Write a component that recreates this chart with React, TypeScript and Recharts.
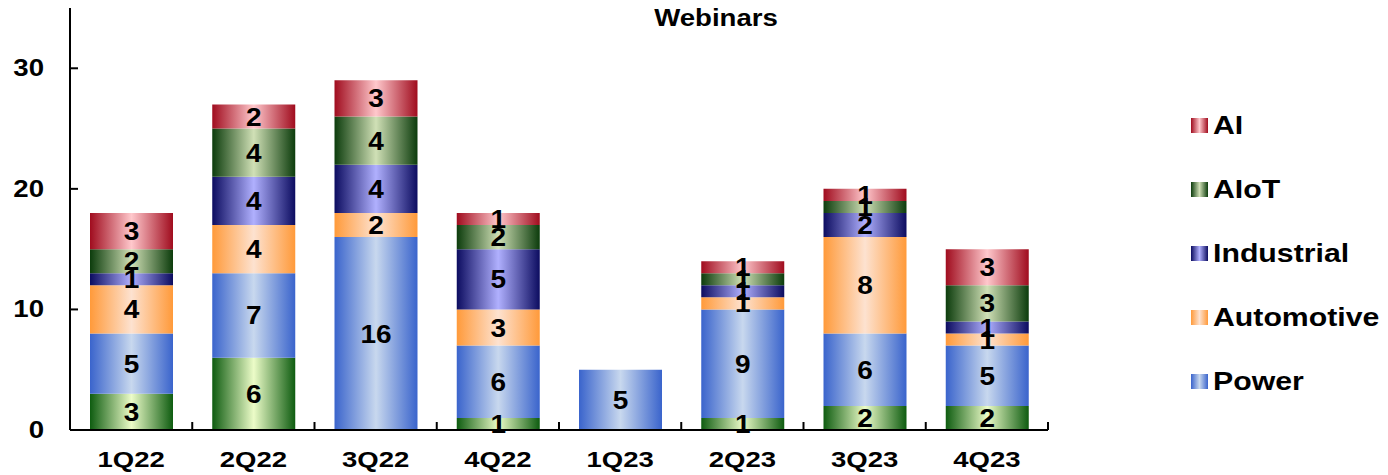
import React from 'react';
import { BarChart, Bar, XAxis, YAxis, LabelList, Legend } from 'recharts';

// Quarterly webinar counts by topic
const quarters = ['1Q22', '2Q22', '3Q22', '4Q22', '1Q23', '2Q23', '3Q23', '4Q23'];
const other = [3, 6, 0, 1, 0, 1, 2, 2];
const power = [5, 7, 16, 6, 5, 9, 6, 5];
const automotive = [4, 4, 2, 3, 0, 1, 8, 1];
const industrial = [1, 4, 4, 5, 0, 1, 2, 1];
const aiot = [2, 4, 4, 2, 0, 1, 1, 3];
const ai = [3, 2, 3, 1, 0, 1, 1, 3];
const yTicks = [0, 10, 20, 30];

const FONT = '"Liberation Sans", Arial, Helvetica, sans-serif';

type Series = { key: string; name: string; values: number[]; edge: string; mid: string; legend: boolean };

// stacked bottom to top
const series: Series[] = [
  { key: 'other', name: 'Other', values: other, edge: '#0e5c10', mid: '#ecfcc8', legend: false },
  { key: 'power', name: 'Power', values: power, edge: '#3a64cc', mid: '#c8d8ee', legend: true },
  { key: 'automotive', name: 'Automotive', values: automotive, edge: '#ff9a3a', mid: '#fde2d0', legend: true },
  { key: 'industrial', name: 'Industrial', values: industrial, edge: '#0c0c60', mid: '#b0b0fe', legend: true },
  { key: 'aiot', name: 'AIoT', values: aiot, edge: '#0c3c0c', mid: '#d0e0b6', legend: true },
  { key: 'ai', name: 'AI', values: ai, edge: '#a00c1e', mid: '#ffc8cc', legend: true },
];

const data = quarters.map((q, i) => {
  const row: Record<string, string | number> = { quarter: q };
  series.forEach((s) => (row[s.key] = s.values[i]));
  return row;
});

const XTick = (props: any) => {
  const { x, y, payload, index, visibleTicksCount } = props;
  const half = payload && typeof payload.offset === 'number' ? payload.offset : 0;
  return (
    <g>
      <line x1={x - half} x2={x - half} y1={y} y2={y - 8} stroke="#000" strokeWidth={2} />
      {index === visibleTicksCount - 1 && (
        <line x1={x + half} x2={x + half} y1={y} y2={y - 8} stroke="#000" strokeWidth={2} />
      )}
      <text
        transform={`translate(${x},${y + 37}) scale(1.25,1)`}
        textAnchor="middle"
        fontFamily={FONT}
        fontSize={22}
        fontWeight="bold"
        fill="#000"
      >
        {payload.value}
      </text>
    </g>
  );
};

const YTick = (props: any) => {
  const { x, y, payload } = props;
  return (
    <g>
      <line x1={x} x2={x + 8} y1={y} y2={y} stroke="#000" strokeWidth={2} />
      <text
        transform={`translate(${x - 26},${y + 8}) scale(1.2,1)`}
        textAnchor="end"
        fontFamily={FONT}
        fontSize={23}
        fontWeight="bold"
        fill="#000"
      >
        {payload.value}
      </text>
    </g>
  );
};

// value printed in the middle of each stacked segment
const SegmentLabel = (props: any) => {
  const { x, y, width, height, value } = props;
  if (!value) return null;
  const cx = Number(x) + Number(width) / 2;
  const cy = Number(y) + Number(height) / 2;
  return (
    <text
      transform={`translate(${cx},${cy + 9}) scale(1.12,1)`}
      textAnchor="middle"
      fontFamily={FONT}
      fontSize={25}
      fontWeight="bold"
      fill="#000"
    >
      {value}
    </text>
  );
};

const renderLegend = () => {
  const items = series.filter((s) => s.legend).slice().reverse();
  return (
    <div style={{ fontFamily: FONT }}>
      {items.map((s) => (
        <div key={s.key} style={{ height: 64, display: 'flex', alignItems: 'center' }}>
          <div
            style={{
              width: 17,
              height: 15,
              flex: 'none',
              background: `linear-gradient(to right, ${s.edge}, ${s.mid} 50%, ${s.edge})`,
            }}
          />
          <span
            style={{
              marginLeft: 5,
              fontSize: 25,
              lineHeight: '25px',
              fontWeight: 'bold',
              color: '#000',
              display: 'inline-block',
              transform: 'scaleX(1.21)',
              transformOrigin: 'left center',
              whiteSpace: 'nowrap',
            }}
          >
            {s.name}
          </span>
        </div>
      ))}
    </div>
  );
};

export default function App() {
  return (
    <div style={{ position: 'relative', width: 1380, height: 467 }}>
      <BarChart
        width={1380}
        height={467}
        data={data}
        margin={{ top: 0, right: 340, bottom: 0, left: 0 }}
        barSize={83}
      >
        <defs>
          {series.map((s) => (
            <linearGradient key={s.key} id={`grad-${s.key}`} x1="0" y1="0" x2="1" y2="0">
              <stop offset="0%" stopColor={s.edge} />
              <stop offset="50%" stopColor={s.mid} />
              <stop offset="100%" stopColor={s.edge} />
            </linearGradient>
          ))}
        </defs>
        <XAxis
          dataKey="quarter"
          height={45}
          axisLine={{ stroke: '#000', strokeWidth: 2 }}
          tickLine={false}
          tickSize={0}
          tickMargin={0}
          tick={<XTick />}
          interval={0}
        />
        <YAxis
          width={62}
          domain={[0, 35]}
          ticks={yTicks}
          axisLine={{ stroke: '#000', strokeWidth: 2 }}
          tickLine={false}
          tickSize={0}
          tickMargin={0}
          tick={<YTick />}
          allowDecimals={false}
        />
        <Legend
          layout="vertical"
          align="center"
          verticalAlign="middle"
          content={renderLegend}
          wrapperStyle={{ left: 1183, top: 85, width: 197 }}
        />
        {series.map((s) => (
          <Bar
            key={s.key}
            dataKey={s.key}
            name={s.name}
            stackId="total"
            fill={`url(#grad-${s.key})`}
            legendType={s.legend ? 'rect' : 'none'}
            isAnimationActive={false}
          >
            <LabelList dataKey={s.key} content={<SegmentLabel />} />
          </Bar>
        ))}
      </BarChart>
      <div
        style={{
          position: 'absolute',
          left: 708,
          top: -1,
          fontFamily: FONT,
          fontSize: 23,
          lineHeight: '22px',
          fontWeight: 'bold',
          color: '#000',
          whiteSpace: 'nowrap',
          transform: 'translateX(-50%) scaleX(1.2)',
        }}
      >
        Webinars
      </div>
    </div>
  );
}
